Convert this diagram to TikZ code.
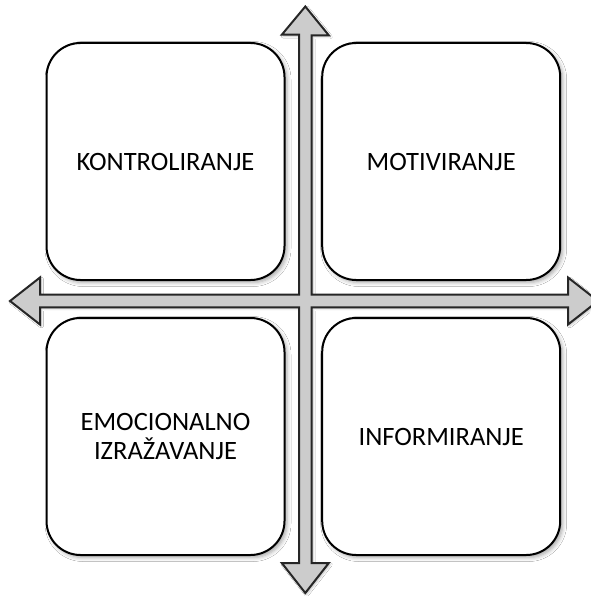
\documentclass[tikz,border=0pt]{standalone}
\usepackage{fontspec}
\setmainfont{Carlito}
\usetikzlibrary{shadows.blur}
\begin{document}
\begin{tikzpicture}[x=1pt,y=-1pt,
  quad/.style={draw=black, line width=2pt, fill=white, rounded corners=34pt,
    minimum width=238pt, minimum height=237pt, align=center,
    font=\fontsize{26.5}{29}\selectfont,
    blur shadow={shadow xshift=2.5pt, shadow yshift=-2.5pt, shadow blur radius=4pt, shadow opacity=35}},
  crossstyle/.style={draw=black!85, line width=2pt, fill=black!20, line join=miter,
    blur shadow={shadow xshift=1.5pt, shadow yshift=-1.5pt, shadow blur radius=2pt, shadow opacity=25}}]
\useasboundingbox (0,0) rectangle (590,596);
\fill[white] (0,0) rectangle (590,596);
\node[quad] (kon) at (165.5,161.5) {KONTROLIRANJE};
\node[quad] (mot) at (441.2,161.5) {MOTIVIRANJE};
\node[quad] (emo) at (165.5,436.5) {EMOCIONALNO\\IZRAŽAVANJE};
\node[quad] (inf) at (441.2,436.5) {INFORMIRANJE};
% cross of double-headed arrows
\coordinate (c) at (305.3,301);
\draw[crossstyle]
  (c) ++(-6.3,-6.3) -- ++(0,-260) -- ++(-17.2,0) -- (305.3,6.5) -- (328.8,35.3) -- ++(-17.2,0)
  -- (311.6,294.7) -- (568,294.7) -- (568,277.5) -- (598,301) -- (568,324.5) -- (568,307.3)
  -- (311.6,307.3) -- (311.6,563) -- (328.8,563) -- (305.3,593) -- (281.8,563) -- (299,563)
  -- (299,307.3) -- (40,307.3) -- (40,324.5) -- (10,301) -- (40,277.5) -- (40,294.7) -- cycle;
\end{tikzpicture}
\end{document}
